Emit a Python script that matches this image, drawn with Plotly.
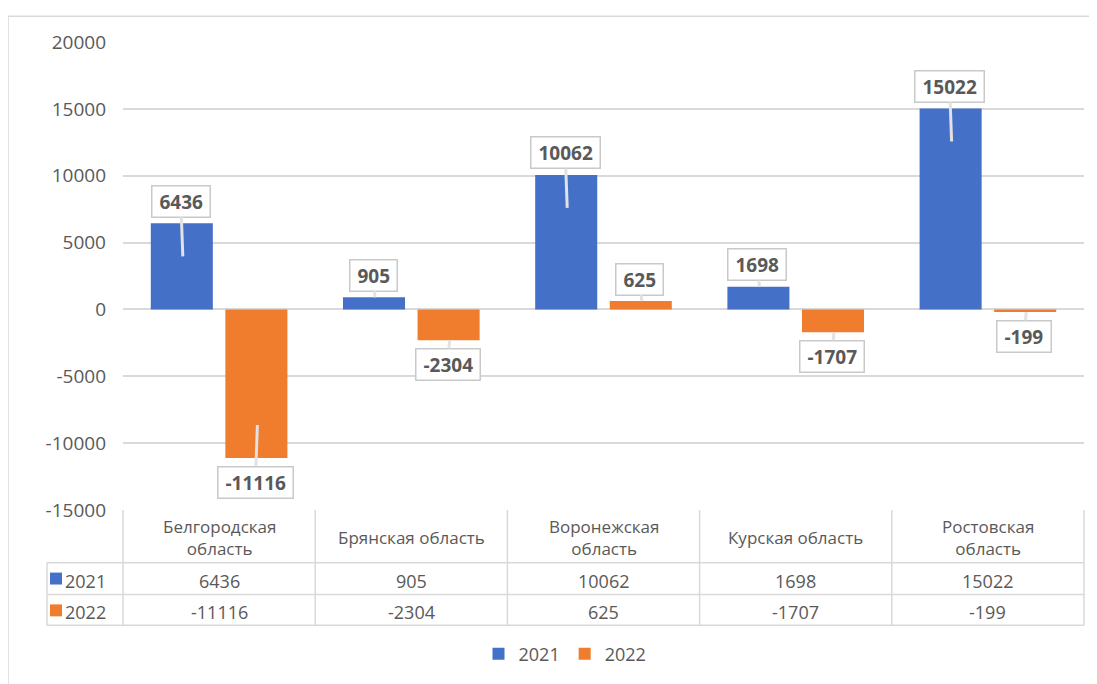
import plotly.graph_objects as go

# ---------------- data ----------------
categories = ["Белгородская область", "Брянская область", "Воронежская область",
              "Курская область", "Ростовская область"]
series_names = ["2021", "2022"]
values_2021 = [6436, 905, 10062, 1698, 15022]
values_2022 = [-11116, -2304, 625, -1707, -199]
y_ticks = [-15000, -10000, -5000, 0, 5000, 10000, 15000, 20000]

# ---------------- layout geometry / style ----------------
OFF = 8                       # page body margin
W, H = 1097 - OFF, 684 - OFF  # figure size
PLOT_LEFT, PLOT_RIGHT, PLOT_TOP, PLOT_BOTTOM = 123, 1084, 42, 513   # page pixels
L = PLOT_LEFT - OFF
T = PLOT_TOP - OFF
R = W - (PLOT_RIGHT - OFF)
B = H - (PLOT_BOTTOM - OFF)
PW, PH = W - L - R, H - T - B
YMIN, YMAX = y_ticks[0], y_ticks[-1]
BARGAP, BARGROUPGAP = 0.224, 0.168
COLORS = ["#4471C7", "#F07C2D"]
TXT = "#595959"
GRID = "#D9D9D9"
FONT = "Open Sans"


def pxx(x):
    return (x - OFF - L) / PW


def pxy(y):
    return (H - B - (y - OFF)) / PH


def wrap(name):
    if len(name) > 17:
        return "<br>".join(name.rsplit(" ", 1))
    return name


series_values = [values_2021, values_2022]

fig = go.Figure()
for name, vals, col in zip(series_names, series_values, COLORS):
    fig.add_trace(go.Bar(x=categories, y=vals, name=name,
                         marker=dict(color=col, line=dict(width=0)), hoverinfo="x+y"))

annotations = []
shapes = []

# data-label callouts
cat_w = PW / len(categories)
slot = cat_w * (1 - BARGAP) / 2
unit = PH / (YMAX - YMIN)
NB = "\u00a0"
for i, vals in enumerate(series_values):
    xoff = (i - 0.5) * slot
    for c, v in zip(categories, vals):
        bar_px = abs(v) * unit
        inset = 33 if bar_px > 50 else 0
        if v >= 0:
            yshift = -inset
            ay = -(inset + 22)
        else:
            yshift = inset
            ay = inset + 24
        annotations.append(dict(
            x=c, y=v, xref="x", yref="y", xshift=xoff + 1, yshift=yshift,
            text=NB + "<b>%d</b>" % v + NB, showarrow=True, arrowhead=0, arrowwidth=3,
            arrowcolor="#E2E2E2", ax=-2, ay=ay,
            font=dict(family=FONT, size=19, color=TXT),
            bgcolor="white", bordercolor="#C9C9C9", borderwidth=1.5, borderpad=2,
        ))

# data table text
CAT_ROW = 541
VAL_ROWS = [584, 616]
for c in categories:
    annotations.append(dict(x=c, y=pxy(CAT_ROW), xref="x", yref="paper", text=wrap(c),
                            showarrow=False, yanchor="middle",
                            font=dict(family=FONT, size=17, color=TXT)))
for r, (name, vals, col) in enumerate(zip(series_names, series_values, COLORS)):
    for c, v in zip(categories, vals):
        annotations.append(dict(x=c, y=pxy(VAL_ROWS[r]), xref="x", yref="paper", text=str(v),
                                showarrow=False, yanchor="middle",
                                font=dict(family=FONT, size=18, color=TXT)))
    row_center = VAL_ROWS[r] - 2
    shapes.append(dict(type="rect", xref="paper", yref="paper", x0=pxx(50), x1=pxx(62),
                       y0=pxy(row_center - 6), y1=pxy(row_center + 6),
                       fillcolor=col, line=dict(width=0)))
    annotations.append(dict(x=pxx(63), y=pxy(VAL_ROWS[r]), xref="paper", yref="paper",
                            xanchor="left", yanchor="middle", text=name,
                            showarrow=False, font=dict(family=FONT, size=18, color=TXT)))

# table lines
line = dict(color=GRID, width=1.5)
for y_line in [566, 598, 629]:
    shapes.append(dict(type="line", xref="paper", yref="paper", x0=pxx(47), x1=1,
                       y0=pxy(y_line), y1=pxy(y_line), line=line))
for k in range(len(categories) + 1):
    xp = k / len(categories)
    shapes.append(dict(type="line", xref="paper", yref="paper", x0=xp, x1=xp,
                       y0=pxy(PLOT_BOTTOM), y1=pxy(629), line=line))
shapes.append(dict(type="line", xref="paper", yref="paper", x0=pxx(47), x1=pxx(47),
                   y0=pxy(566), y1=pxy(629), line=line))
# outer chart border
shapes.append(dict(type="rect", xref="paper", yref="paper", x0=pxx(8), x1=pxx(1130),
                   y0=pxy(16), y1=pxy(730), line=dict(color=GRID, width=1.5), layer="below"))

fig.update_layout(
    width=W, height=H, margin=dict(l=L, r=R, t=T, b=B),
    paper_bgcolor="white", plot_bgcolor="white",
    barmode="group", bargap=BARGAP, bargroupgap=BARGROUPGAP,
    font=dict(family=FONT, color=TXT),
    xaxis=dict(showticklabels=False, showgrid=False, zeroline=False, showline=False,
               range=[-0.5, len(categories) - 0.5]),
    yaxis=dict(range=[YMIN, YMAX], tickvals=y_ticks, ticktext=[str(t) for t in y_ticks],
               showgrid=True, gridcolor=GRID, gridwidth=1.5, zeroline=True,
               zerolinecolor=GRID, zerolinewidth=1.5, showline=False,
               tickfont=dict(family=FONT, size=19, color=TXT), ticklabelstandoff=16),
    legend=dict(orientation="h", x=pxx(565), xanchor="center", y=pxy(658), yanchor="middle",
                font=dict(family=FONT, size=18, color=TXT), itemwidth=30, traceorder="normal"),
    annotations=annotations, shapes=shapes,
)

fig.write_html("out.html")
